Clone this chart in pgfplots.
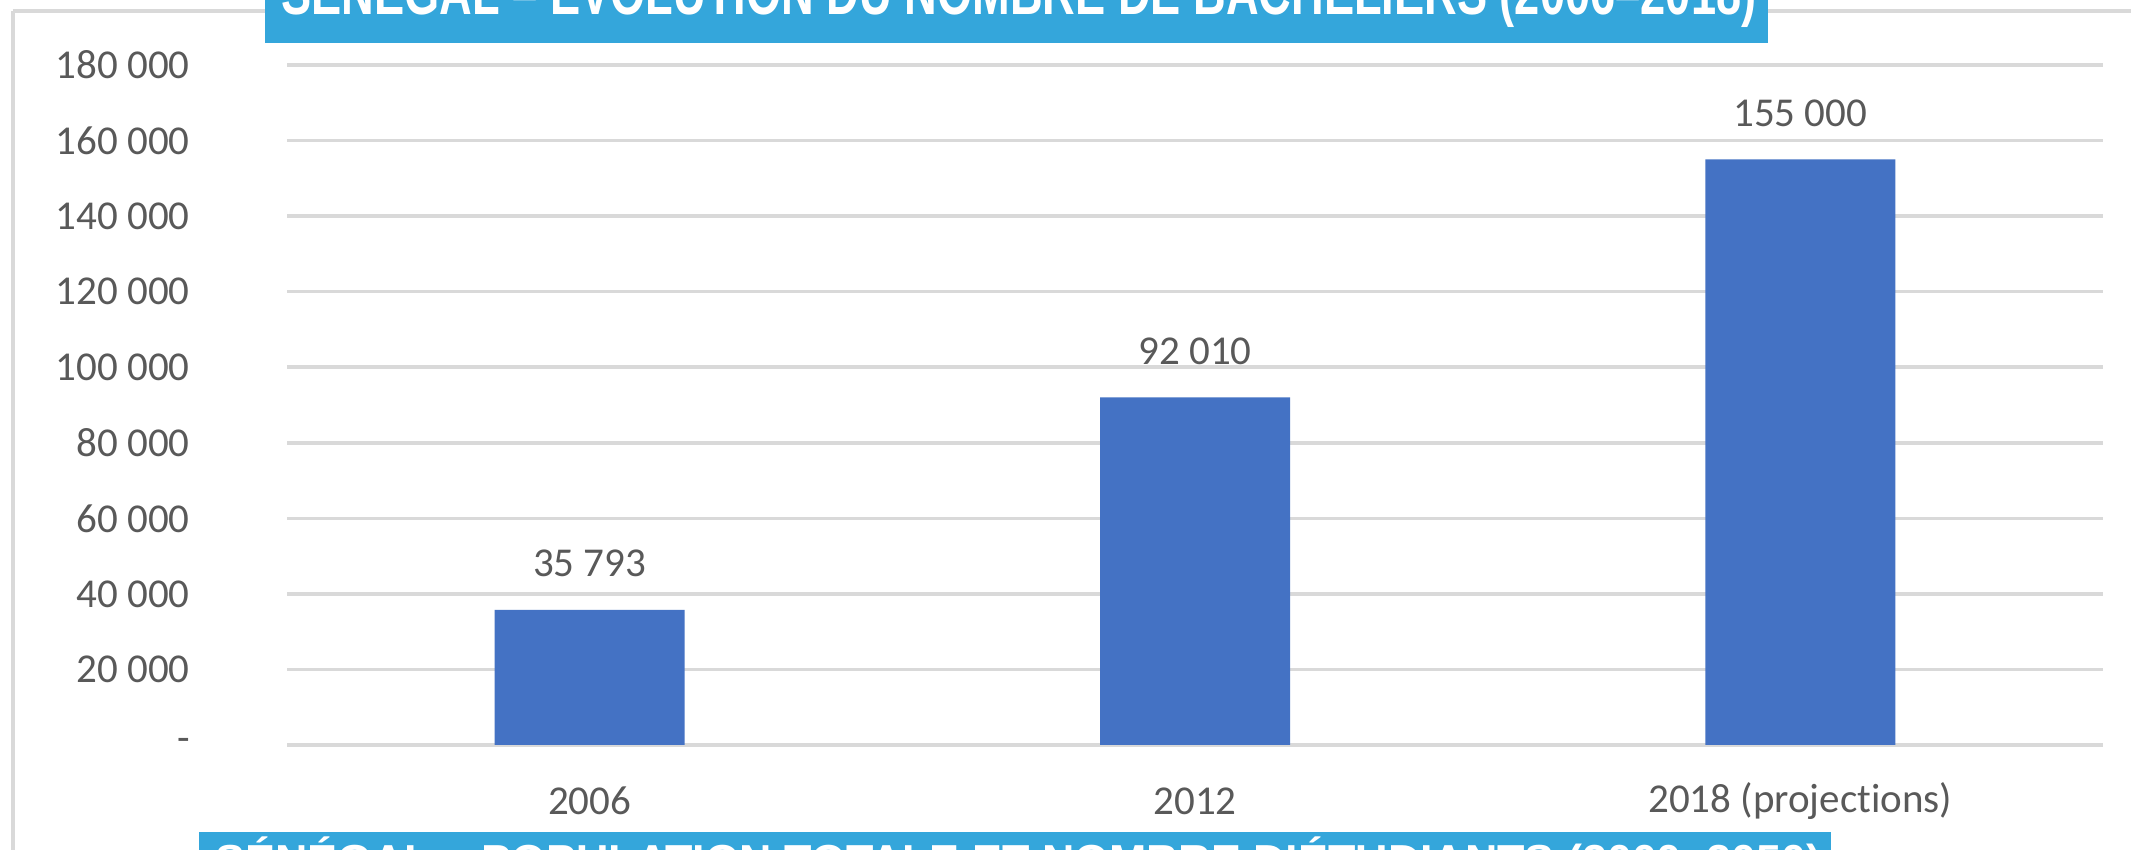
\documentclass[border=0pt]{standalone}
\usepackage{pgfplots}
\pgfplotsset{compat=1.18}
\usepackage{pgfplotstable}
\usepackage{fontspec}
\setmainfont{Carlito}
\newfontfamily\chartfont{Carlito}[Ligatures=NoCommon]
\newfontfamily\titlefont{Liberation Sans}[FakeStretch=0.72]
\newfontfamily\subtitlefont{Liberation Sans}
\definecolor{barblue}{HTML}{4472C4}
\definecolor{gridgray}{HTML}{D9D9D9}
\definecolor{labelgray}{HTML}{595959}
\definecolor{banner}{RGB}{52,166,219}

\pgfplotstableread{
x y label
0 35793 {35 793}
1 92010 {92 010}
2 155000 {155 000}
}\bachdata

\begin{document}
\begin{tikzpicture}[x=1pt,y=1pt]
\useasboundingbox (0,0) rectangle (1065.5,425);
\clip (0,0) rectangle (1065.5,425);
\fill[white] (0,0) rectangle (1065.5,425);
\draw[gridgray, line width=2pt] (6.35,419.25) -- (1070,419.25);
\draw[gridgray, line width=2pt] (6.35,-5) -- (6.35,419.25);
\fill[banner] (132.5,403.5) rectangle (884,430);
\node[anchor=base west, inner sep=0pt, text=white] at (140.5,417.5) {\resizebox{737.5pt}{!}{\titlefont\bfseries\fontsize{30}{36}\selectfont SÉNÉGAL – ÉVOLUTION DU NOMBRE DE BACHELIERS (2006–2018)}};
\fill[banner] (99.5,-5) rectangle (915.5,9);
\node[anchor=base west, inner sep=0pt, text=white] at (107.5,-13.5) {\resizebox{803pt}{!}{\subtitlefont\bfseries\fontsize{20}{24}\selectfont SÉNÉGAL – POPULATION TOTALE ET NOMBRE D’ÉTUDIANTS (2000–2050)}};
\begin{axis}[
  scale only axis, width=908pt, height=340pt,
  at={(143.5pt,52.5pt)}, anchor=south west,
  xmin=-0.5, xmax=2.5, ymin=0, ymax=180000,
  axis line style={draw=none},
  major tick length=0pt,
  scaled y ticks=false,
  ytick={0,20000,40000,60000,80000,100000,120000,140000,160000,180000},
  yticklabels={-,20 000,40 000,60 000,80 000,100 000,120 000,140 000,160 000,180 000},
  xtick={0,1,2},
  xticklabels={2006,2012,2018 (projections)},
  ymajorgrids, grid style={gridgray, line width=1.8pt},
  tick label style={font=\chartfont\fontsize{20.5}{24}\selectfont, text=labelgray},
  yticklabel style={anchor=east, inner sep=0pt, xshift=-48.5pt},
  xticklabel style={anchor=center, inner sep=0pt, yshift=-28pt},
  ybar, bar width=95pt,
  nodes near coords, point meta=explicit symbolic,
  nodes near coords style={anchor=center, inner sep=0pt, yshift=23pt, font=\chartfont\fontsize{20.5}{24}\selectfont, text=labelgray},
]
\addplot[fill=barblue, draw=none] table[x=x, y=y, meta=label] {\bachdata};
\end{axis}
\end{tikzpicture}
\end{document}
